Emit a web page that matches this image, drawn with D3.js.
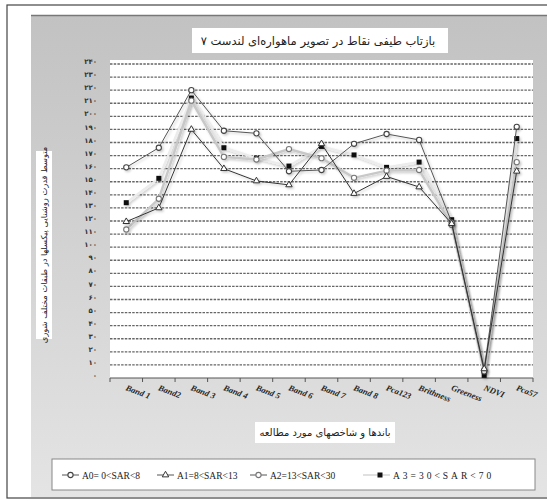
<!DOCTYPE html>
<html>
<head>
<meta charset="utf-8">
<script src="https://cdn.jsdelivr.net/npm/d3@7"></script>
<style>
  body { margin:0; background:#fff; }
</style>
</head>
<body>
<script>
// données
const categories = ['Band 1','Band2','Band 3','Band 4','Band 5','Band 6','Band 7','Band 8','Pca123','Brithness','Greeness','NDVI','Pca57'];
const a0 = [161,176,220,189,187,158,159,179,186.5,182,119,5,192];
const a1 = [119.5,130,190,160,150.6,147.6,179,141,154,146,118,7,158];
const a2 = [113.5,137,212,169,167,175,168,153,158.5,159,117,6,165];
const a3 = [134,152.6,214,176,168,162,177,170.5,161,165,121,2,183];
const noms = ['A0= 0<SAR<8','A1=8<SAR<13','A2=13<SAR<30','A3=30<SAR<70'];
const yTicks = d3.range(0,250,10);
const titre = 'بازتاب طیفی نقاط در تصویر ماهواره‌ای لندست ۷';
const titreX = 'باندها و شاخصهای مورد مطالعه';
const titreY = 'متوسط قدرت روشنایی پیکسلها در طبقات مختلف شوری';

const W = 547, H = 501;
const canevas = d3.select('body')
  .append('svg')
  .attr('width',W)
  .attr('height',H)

// chiffres persans
const fa = v => String(v).replace(/\d/g, c => '۰۱۲۳۴۵۶۷۸۹'[c]);

const defs = canevas.append('defs');
const grad = defs.append('linearGradient').attr('id','fond').attr('x1',0).attr('y1',0).attr('x2',0).attr('y2',1);
grad.append('stop').attr('offset','0%').attr('stop-color','#c2c2c2');
grad.append('stop').attr('offset','100%').attr('stop-color','#e4e4e4');
defs.append('filter').attr('id','ombre')
  .append('feDropShadow').attr('dx',1.5).attr('dy',1.5).attr('stdDeviation',1.2)
  .attr('flood-color','#000').attr('flood-opacity',0.22);

// cadre extérieur et panneau gris
canevas.append('rect')
  .attr('x',7).attr('y',5).attr('width',W).attr('height',H-8)
  .attr('fill','#fff').attr('stroke','#444').attr('stroke-width',1.2)
canevas.append('rect')
  .attr('x',31).attr('y',15).attr('width',W).attr('height',482)
  .attr('fill','url(#fond)')
canevas.append('line')
  .attr('x1',31).attr('x2',W).attr('y1',15.5).attr('y2',15.5)
  .attr('stroke','#777').attr('stroke-width',1.5)

const x = d3.scaleBand().domain(categories).range([110,533]);
const y = d3.scaleLinear().domain([0,240]).range([378,64]);

// zone de tracé
canevas.append('rect')
  .attr('x',110).attr('y',60).attr('width',423).attr('height',318)
  .attr('fill','#fff')

// grille pointillée
canevas.append('g').selectAll('line')
  .data(yTicks.filter(d => d > 0))
  .enter()
  .append('line')
  .attr('x1',110).attr('x2',533)
  .attr('y1',d => y(d)).attr('y2',d => y(d))
  .attr('stroke','#666').attr('stroke-width',1.4)
  .attr('stroke-dasharray','2.5,1.2')

// axe vertical
const axeY = canevas.append('g')
  .attr('transform','translate(110,0)')
  .call(d3.axisLeft(y).tickValues(yTicks).tickSize(0).tickPadding(13).tickFormat(fa))
axeY.select('.domain').remove();
axeY.selectAll('text')
  .attr('dy','-0.05em')
  .attr('font-family','DejaVu Sans')
  .attr('font-size',7)
  .attr('font-weight','bold')
  .attr('fill','#333')

// axe horizontal
canevas.append('line')
  .attr('x1',110).attr('x2',533).attr('y1',378).attr('y2',378)
  .attr('stroke','#555')
canevas.append('g').selectAll('line')
  .data(categories.map(c => x(c)).concat([533]))
  .enter()
  .append('line')
  .attr('x1',d => d).attr('x2',d => d)
  .attr('y1',378).attr('y2',382)
  .attr('stroke','#555')
canevas.append('g').selectAll('text')
  .data(categories)
  .enter()
  .append('text')
  .attr('transform',d => `translate(${x(d)+x.bandwidth()/2-1},${390}) rotate(21)`)
  .attr('font-family','Liberation Serif')
  .attr('font-style','italic')
  .attr('font-weight','bold')
  .attr('font-size',8.5)
  .attr('fill','#222')
  .text(d => d)

// séries
const series = [
  {nom:noms[0], v:a0, trait:'#555', ep:1, marque:'rond', couleur:'#444'},
  {nom:noms[1], v:a1, trait:'#333', ep:1, marque:'tri', couleur:'#333'},
  {nom:noms[2], v:a2, trait:'#c8c8c8', ep:2.4, marque:'rond', couleur:'#777'},
  {nom:noms[3], v:a3, trait:'#ececec', ep:2.4, marque:'carre', couleur:'#111'}
];
const ligne = d3.line()
  .x((d,i) => x(categories[i]) + x.bandwidth()/2)
  .y(d => y(d));

function marque(g, s, cx, cy) {
  if (s.marque === 'carre') {
    g.append('rect').attr('x',cx-2.5).attr('y',cy-2.5).attr('width',5).attr('height',5)
      .attr('fill',s.couleur)
  } else if (s.marque === 'tri') {
    g.append('path')
      .attr('d',d3.symbol().type(d3.symbolTriangle).size(18)())
      .attr('transform',`translate(${cx},${cy})`)
      .attr('fill','#fff').attr('stroke',s.couleur).attr('stroke-width',1)
  } else {
    g.append('circle').attr('cx',cx).attr('cy',cy).attr('r',2.6)
      .attr('fill','#fff').attr('stroke',s.couleur).attr('stroke-width',1.1)
  }
}

// lignes pâles d'abord
[3,2,0,1].forEach(k => {
  const s = series[k];
  const g = canevas.append('g').attr('filter','url(#ombre)');
  g.append('path')
    .attr('d',ligne(s.v))
    .attr('fill','none')
    .attr('stroke',s.trait)
    .attr('stroke-width',s.ep)
  s.v.forEach((d,i) => marque(g, s, x(categories[i]) + x.bandwidth()/2, y(d)));
});

// titre
canevas.append('rect')
  .attr('x',192).attr('y',28).attr('width',256).attr('height',25)
  .attr('fill','#fff')
canevas.append('text')
  .attr('x',318).attr('y',44.5)
  .attr('text-anchor','middle')
  .attr('font-family','DejaVu Sans')
  .attr('font-size',11.5)
  .attr('fill','#222')
  .text(titre)

// titre de l'axe x
canevas.append('rect')
  .attr('x',255).attr('y',422).attr('width',140).attr('height',21)
  .attr('fill','#fff')
canevas.append('text')
  .attr('x',325).attr('y',436)
  .attr('text-anchor','middle')
  .attr('font-family','DejaVu Sans')
  .attr('font-size',10)
  .attr('fill','#222')
  .text(titreX)

// titre de l'axe y
canevas.append('rect')
  .attr('x',36).attr('y',151).attr('width',16).attr('height',188)
  .attr('fill','#fff')
canevas.append('text')
  .attr('transform','translate(44,245) rotate(-90)')
  .attr('text-anchor','middle')
  .attr('dominant-baseline','middle')
  .attr('font-family','DejaVu Sans')
  .attr('font-size',8.3)
  .attr('fill','#222')
  .text(titreY)

// légende
canevas.append('rect')
  .attr('x',52).attr('y',459).attr('width',483).attr('height',31)
  .attr('fill','#fff').attr('stroke','#888').attr('stroke-width',1)
const legX = [62,157,250,363];
series.forEach((s,k) => {
  const g = canevas.append('g');
  const lx = legX[k];
  const lw = k === 3 ? 27 : 17;
  g.append('line')
    .attr('x1',lx).attr('x2',lx+lw).attr('y1',475).attr('y2',475)
    .attr('stroke',k === 3 ? '#e0e0e0' : '#555').attr('stroke-width',k === 3 ? 2 : 1)
  marque(g, s, k === 3 ? lx+17 : lx+lw/2, 475);
  g.append('text')
    .attr('x',lx+lw+3).attr('y',478.5)
    .attr('font-family','Liberation Serif')
    .attr('font-size',9.5)
    .attr('letter-spacing',k === 3 ? 3 : 0)
    .attr('fill','#222')
    .text(s.nom)
});
</script>
</body>
</html>
